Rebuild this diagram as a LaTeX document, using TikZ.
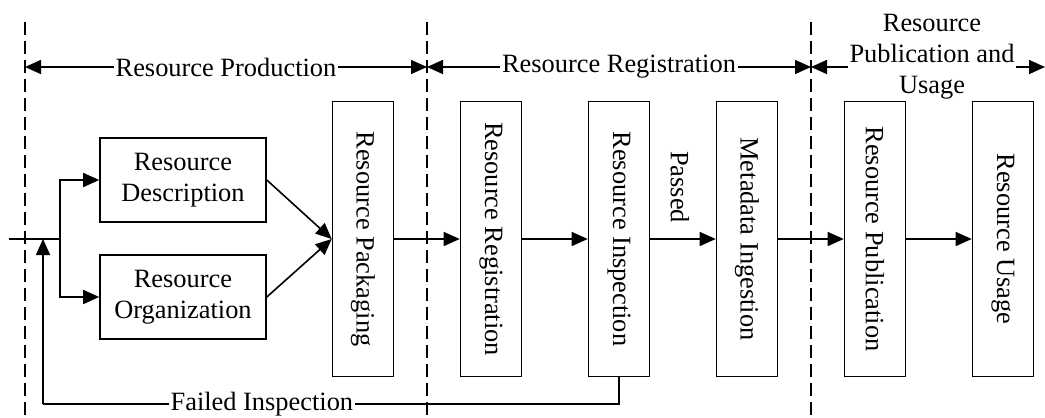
\documentclass[tikz,border=0pt]{standalone}
\usepackage{fontspec}
\setmainfont{Liberation Serif}
\usepackage{graphicx}
\usetikzlibrary{arrows.meta}
\newcommand{\vlabel}[1]{\rotatebox{-90}{#1}}

\begin{document}
\begin{tikzpicture}[x=0.5pt,y=-0.5pt,line width=0.8pt,
    font=\fontsize{13.2pt}{15.5pt}\selectfont]
    \tikzstyle{block}=[draw,inner sep=0pt]
    \tikzstyle{tall}=[block,minimum width=30.5pt,minimum height=137.5pt]
    \tikzstyle{wide}=[block,align=center,minimum width=83pt,minimum height=42pt]
    \tikzstyle{arr}=[-{Triangle[length=8pt,width=7pt]}]
    \tikzstyle{span}=[{Triangle[length=8pt,width=7pt]}-{Triangle[length=8pt,width=7pt]}]
    \tikzstyle{guide}=[dash pattern=on 6.5pt off 3pt]
    \tikzstyle{lbl}=[fill=white,inner sep=1pt]
    \useasboundingbox (0,0) rectangle (1045,418);
    % phases
    \foreach \n/\x in {a/25,b/427,c/811}{
      \draw[guide] (\x,22) -- (\x,418);
      \coordinate (s\n) at (\x,67);
    }
    \coordinate (sd) at (1045,67);
    \draw[span] (sa) -- node[lbl] {Resource Production} (sb);
    \draw[span] (sb) -- node[lbl] {Resource Registration} (sc);
    \draw[span] (sc) -- (sd);
    \node[lbl,align=center] (usespan) at (932,57) {Resource\\Publication and\\Usage};
    % steps
    \node[wide] (desc) at (183,180) {Resource\\Description};
    \node[wide] (org) at (183,297) {Resource\\Organization};
    \node[tall] (pack) at (363,239) {\vlabel{Resource Packaging}};
    \node[tall] (reg) at (491,239) {\vlabel{Resource Registration}};
    \node[tall] (insp) at (619,239) {\vlabel{Resource Inspection}};
    \node[tall] (meta) at (747,239) {\vlabel{Metadata Ingestion}};
    \node[tall] (pub) at (875,239) {\vlabel{Resource Publication}};
    \node[tall] (use) at (1003,239) {\vlabel{Resource Usage}};
    % flow
    \coordinate (in) at (9,239);
    \coordinate (split) at (60,239);
    \coordinate (merge) at (43,239);
    \coordinate (back) at (43,404);
    \draw (in) -- (split);
    \draw[arr] (split) |- (desc.west);
    \draw[arr] (split) |- (org.west);
    \draw[arr] (desc.east) -- (pack.west);
    \draw[arr] (org.east) -- (pack.west);
    \draw[arr] (pack) -- (reg);
    \draw[arr] (reg) -- (insp);
    \draw[arr] (insp) -- (meta);
    \draw[arr] (meta) -- (pub);
    \draw[arr] (pub) -- (use);
    \node (passed) at (680,187) {\vlabel{Passed}};
    \draw (insp.south) |- node[lbl,pos=0.81] {Failed Inspection} (back);
    \draw[arr] (back) -- (merge);
\end{tikzpicture}
\end{document}
